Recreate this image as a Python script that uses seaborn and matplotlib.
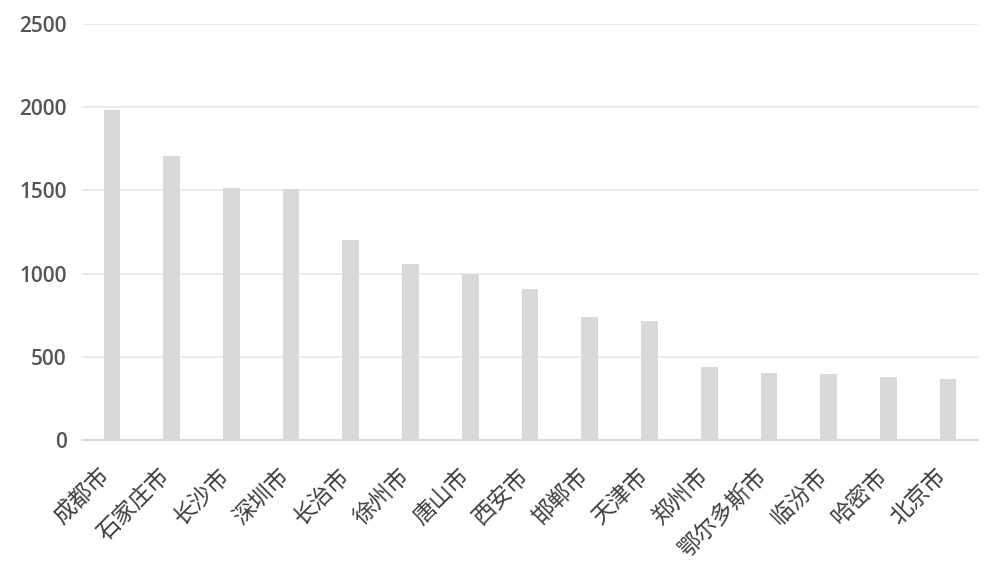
import matplotlib
matplotlib.use("Agg")
import matplotlib.pyplot as plt
import matplotlib.transforms as mtransforms
import seaborn as sns
import pandas as pd

# data
cities = ["成都市", "石家庄市", "长沙市", "深圳市", "长治市", "徐州市", "唐山市", "西安市",
          "邯郸市", "天津市", "郑州市", "鄂尔多斯市", "临汾市", "哈密市", "北京市"]
values = [1985, 1704, 1516, 1510, 1200, 1056, 1000, 907, 739, 715, 441, 403, 397, 381, 367]
yticks = [0, 500, 1000, 1500, 2000, 2500]

df = pd.DataFrame({"city": cities, "value": values})

sns.set_style("white")
plt.rcParams["font.family"] = ["Noto Sans CJK SC", "DejaVu Sans"]

fig = plt.figure(figsize=(10, 5.79), dpi=100)
ax = fig.add_axes([0.082, 0.24, 0.896, 0.7185])

sns.barplot(data=df, x="city", y="value", color="#d9d9d9", width=0.28,
            saturation=1, linewidth=0, ax=ax, zorder=3)

ax.set_ylim(0, 2500)
ax.set_yticks(yticks)
ax.set_xlim(-0.5, len(cities) - 0.5)
ax.yaxis.grid(True, color="#e8e8e8", linewidth=1.2, zorder=0)
ax.set_xlabel("")
ax.set_ylabel("")

for side in ["top", "right", "left"]:
    ax.spines[side].set_visible(False)
ax.spines["bottom"].set_color("#d9d9d9")
ax.spines["bottom"].set_linewidth(1.5)

ax.tick_params(axis="both", length=0, colors="#404040")
ax.tick_params(axis="y", pad=11)
ax.tick_params(axis="x", labelsize=16.5, pad=0)
plt.setp(ax.get_yticklabels(), family=["Open Sans", "DejaVu Sans"],
         fontweight="semibold", fontsize=15, color="#555555")

# x labels: rotated, nudged down like the reference
shift = mtransforms.ScaledTranslation(-0.05, -0.32, fig.dpi_scale_trans)
for lab in ax.get_xticklabels():
    lab.set_rotation(45)
    lab.set_ha("right")
    lab.set_va("center")
    lab.set_rotation_mode("anchor")
    lab.set_transform(lab.get_transform() + shift)

fig.savefig("out.png", dpi=100)
